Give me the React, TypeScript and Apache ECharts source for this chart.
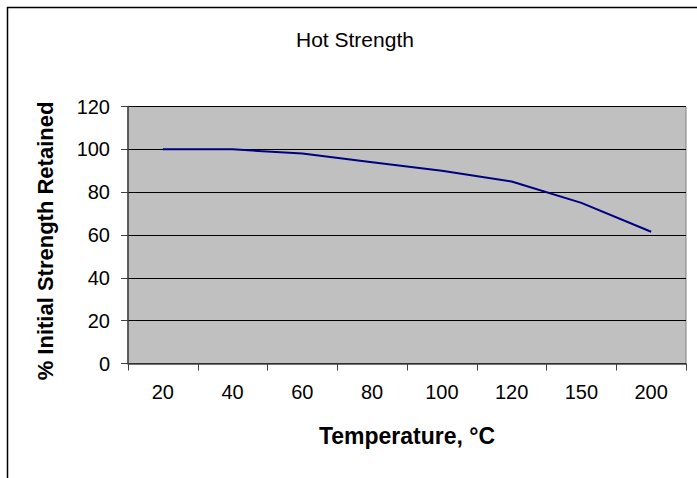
import React, { useEffect, useRef } from "react";
import * as echarts from "echarts";

const categories = ["20", "40", "60", "80", "100", "120", "150", "200"];
const strengthRetained = [100, 100, 98, 94, 90, 85, 75, 61.5];
const chartTitle = "Hot Strength";
const xAxisTitle = "Temperature, °C";
const yAxisTitle = "% Initial Strength Retained";

const FONT = "'Liberation Sans', Arial, sans-serif";

export default function App() {
  const ref = useRef<HTMLDivElement>(null);
  useEffect(() => {
    if (!ref.current) return;
    const chart = echarts.init(ref.current, null, { renderer: "svg" });
    chart.setOption({
      animation: false,
      backgroundColor: "#ffffff",
      title: {
        text: chartTitle,
        left: 296,
        top: 28.5,
        padding: 0,
        textStyle: { fontFamily: FONT, fontSize: 21, fontWeight: "normal", color: "#000" },
      },
      graphic: [
        {
          type: "rect",
          shape: { x: 7.5, y: 7.5, width: 720, height: 500 },
          style: { fill: "none", stroke: "#000", lineWidth: 1.5 },
          silent: true,
        },
      ],
      grid: {
        left: 128,
        top: 106.5,
        right: 11,
        bottom: 114.5,
        show: true,
        backgroundColor: "#c0c0c0",
        borderColor: "#808080",
        borderWidth: 1,
      },
      xAxis: {
        type: "category",
        data: categories,
        boundaryGap: true,
        name: xAxisTitle,
        nameLocation: "middle",
        nameGap: 61,
        nameTextStyle: { fontFamily: FONT, fontSize: 23, fontWeight: "bold", color: "#000" },
        axisLine: { show: true, lineStyle: { color: "#404040", width: 1.5 } },
        axisTick: { show: true, inside: false, length: 7, alignWithLabel: false, lineStyle: { color: "#404040", width: 1 } },
        axisLabel: { fontFamily: FONT, fontSize: 20, color: "#000", margin: 18 },
        splitLine: { show: false },
      },
      yAxis: {
        type: "value",
        min: 0,
        max: 120,
        interval: 20,
        name: yAxisTitle,
        nameLocation: "middle",
        nameGap: 72,
        nameRotate: 90,
        nameTextStyle: {
          fontFamily: FONT,
          fontSize: 22,
          fontWeight: "bold",
          color: "#000",
          padding: [0, 12, 0, 0],
        },
        axisLine: { show: true, lineStyle: { color: "#404040", width: 1.5 } },
        axisTick: { show: true, inside: false, length: 7, lineStyle: { color: "#404040", width: 1 } },
        axisLabel: { fontFamily: FONT, fontSize: 20, color: "#000", margin: 18 },
        splitLine: { show: true, lineStyle: { color: "#000", width: 1 } },
      },
      series: [
        {
          type: "line",
          data: strengthRetained,
          symbol: "none",
          lineStyle: { color: "#000080", width: 2 },
          itemStyle: { color: "#000080" },
        },
      ],
    });
    return () => chart.dispose();
  }, []);
  return (
    <div
      ref={ref}
      style={{ position: "fixed", left: 0, top: 0, width: 697, height: 478 }}
    />
  );
}
